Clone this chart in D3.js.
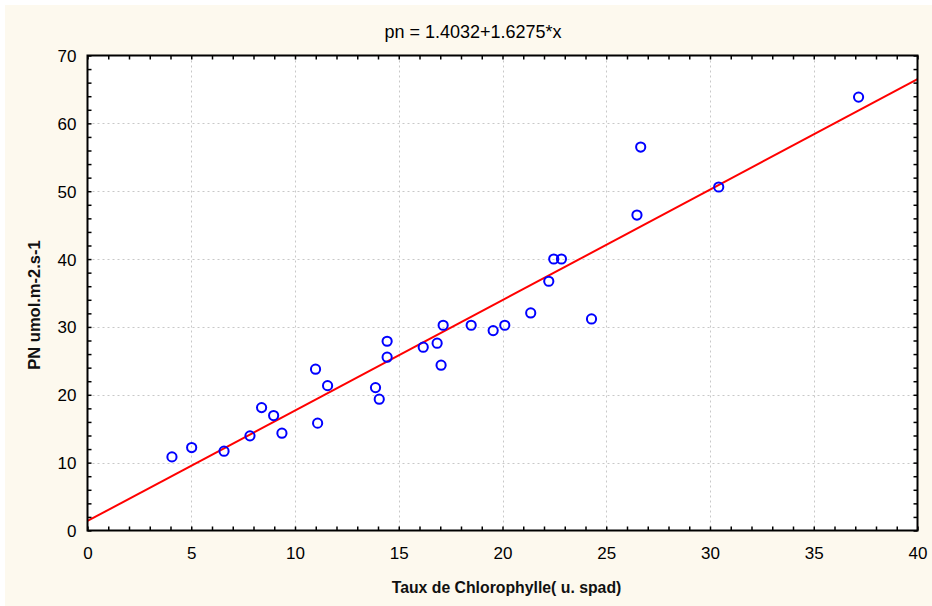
<!DOCTYPE html>
<html>
<head>
<meta charset="utf-8">
<script src="https://cdn.jsdelivr.net/npm/d3@7"></script>
<style>
  html, body { margin: 0; padding: 0; background: #ffffff; }
  svg { display: block; }
</style>
</head>
<body>
<svg id="chart" width="932" height="606"></svg>
<script>
// Data
const chlorophyll = [4.07, 5.02, 6.58, 7.83, 8.39, 8.97, 9.37, 10.99, 11.09, 11.57,
  13.88, 14.06, 14.44, 14.44, 16.18, 16.85, 17.04, 17.14, 18.49, 19.55,
  20.11, 21.36, 22.23, 22.47, 22.84, 24.29, 26.48, 26.66, 30.42, 37.16];
const pn = [10.85, 12.22, 11.69, 13.95, 18.11, 16.94, 14.34, 23.77, 15.82, 21.35,
  21.06, 19.35, 27.89, 25.54, 27.01, 27.60, 24.36, 30.25, 30.25, 29.46,
  30.25, 32.06, 36.73, 40.01, 40.01, 31.18, 46.49, 56.51, 50.62, 63.87];
const intercept = 1.4032;
const slope = 1.6275;
const xTicks = [0, 5, 10, 15, 20, 25, 30, 35, 40];
const yTicks = [0, 10, 20, 30, 40, 50, 60, 70];
const xMinorTicks = d3.range(0, 41, 1);
const yMinorTicks = d3.range(0, 71, 2);
const titleText = "pn = 1.4032+1.6275*x";
const xLabel = "Taux de Chlorophylle( u. spad)";
const yLabel = "PN umol.m-2.s-1";

const W = 932, H = 606;
const m = { left: 87.5, right: 14.5, top: 55.5, bottom: 75.5 };
const svg = d3.select("#chart");
const font = "'Liberation Sans', Arial, sans-serif";

svg.append("rect").attr("x", 5).attr("y", 5).attr("width", W - 5).attr("height", H - 5)
  .attr("fill", "#fdf9ee");

const x = d3.scaleLinear().domain([0, 40]).range([m.left, W - m.right]);
const y = d3.scaleLinear().domain([0, 70]).range([H - m.bottom, m.top]);

svg.append("rect").attr("x", x(0)).attr("y", y(70))
  .attr("width", x(40) - x(0)).attr("height", y(0) - y(70)).attr("fill", "#ffffff");

// grid
const grid = svg.append("g").attr("stroke", "#c8c8c8").attr("stroke-width", 1)
  .attr("stroke-dasharray", "2,3");
xTicks.filter(d => d > 0 && d < 40).forEach(d => {
  grid.append("line").attr("x1", Math.round(x(d)) + 0.5).attr("x2", Math.round(x(d)) + 0.5)
    .attr("y1", y(70)).attr("y2", y(0));
});
yTicks.filter(d => d > 0 && d < 70).forEach(d => {
  grid.append("line").attr("y1", Math.round(y(d)) + 0.5).attr("y2", Math.round(y(d)) + 0.5)
    .attr("x1", x(0)).attr("x2", x(40));
});

// regression line
const clipId = "plotclip";
svg.append("clipPath").attr("id", clipId).append("rect")
  .attr("x", x(0)).attr("y", y(70)).attr("width", x(40) - x(0)).attr("height", y(0) - y(70));
svg.append("line")
  .attr("clip-path", `url(#${clipId})`)
  .attr("x1", x(0)).attr("y1", y(intercept))
  .attr("x2", x(40)).attr("y2", y(intercept + slope * 40))
  .attr("stroke", "#ff0000").attr("stroke-width", 2);

// points
svg.append("g").selectAll("circle").data(chlorophyll.map((d, i) => [d, pn[i]]))
  .join("circle")
  .attr("cx", d => x(d[0])).attr("cy", d => y(d[1])).attr("r", 4.6)
  .attr("fill", "none").attr("stroke", "#0000ff").attr("stroke-width", 2);

// axes (inward ticks on all four sides)
function styleAxis(g) {
  g.select(".domain").remove();
  g.selectAll("line").attr("stroke", "#000").attr("stroke-width", 1.5);
}
svg.append("g").attr("transform", `translate(0,${y(0)})`)
  .call(d3.axisTop(x).tickValues(xMinorTicks).tickSize(4).tickFormat(""))
  .call(styleAxis);
svg.append("g").attr("transform", `translate(0,${y(70)})`)
  .call(d3.axisBottom(x).tickValues(xMinorTicks).tickSize(4).tickFormat(""))
  .call(styleAxis);
svg.append("g").attr("transform", `translate(${x(0)},0)`)
  .call(d3.axisRight(y).tickValues(yMinorTicks).tickSize(4).tickFormat(""))
  .call(styleAxis);
svg.append("g").attr("transform", `translate(${x(40)},0)`)
  .call(d3.axisLeft(y).tickValues(yMinorTicks).tickSize(4).tickFormat(""))
  .call(styleAxis);

// frame
svg.append("rect").attr("x", x(0)).attr("y", y(70))
  .attr("width", x(40) - x(0)).attr("height", y(0) - y(70))
  .attr("fill", "none").attr("stroke", "#000").attr("stroke-width", 2);

// tick labels
const xl = svg.append("g").attr("transform", `translate(0,${y(0)})`)
  .call(d3.axisBottom(x).tickValues(xTicks).tickSize(0).tickPadding(0).tickFormat(d3.format("d")));
xl.select(".domain").remove();
xl.selectAll("text").attr("font-family", font).attr("font-size", 17).attr("fill", "#000")
  .attr("dy", null).attr("y", 28);

const yl = svg.append("g").attr("transform", `translate(${x(0)},0)`)
  .call(d3.axisLeft(y).tickValues(yTicks).tickSize(0).tickPadding(0).tickFormat(d3.format("d")));
yl.select(".domain").remove();
yl.selectAll("text").attr("font-family", font).attr("font-size", 17).attr("fill", "#000")
  .attr("x", -11).attr("dy", "0.35em");

// title
svg.append("text").attr("x", 473).attr("y", 37.5).attr("text-anchor", "middle")
  .attr("font-family", font).attr("font-size", 18).attr("fill", "#000").text(titleText);

// axis labels
svg.append("text").attr("x", 506.5).attr("y", 593).attr("text-anchor", "middle")
  .attr("font-family", font).attr("font-size", 15.8).attr("font-weight", "bold")
  .attr("fill", "#111").text(xLabel);
svg.append("text").attr("transform", "translate(39.5,305) rotate(-90)")
  .attr("text-anchor", "middle")
  .attr("font-family", font).attr("font-size", 16.5).attr("font-weight", "bold")
  .attr("fill", "#111").text(yLabel);
</script>
</body>
</html>
